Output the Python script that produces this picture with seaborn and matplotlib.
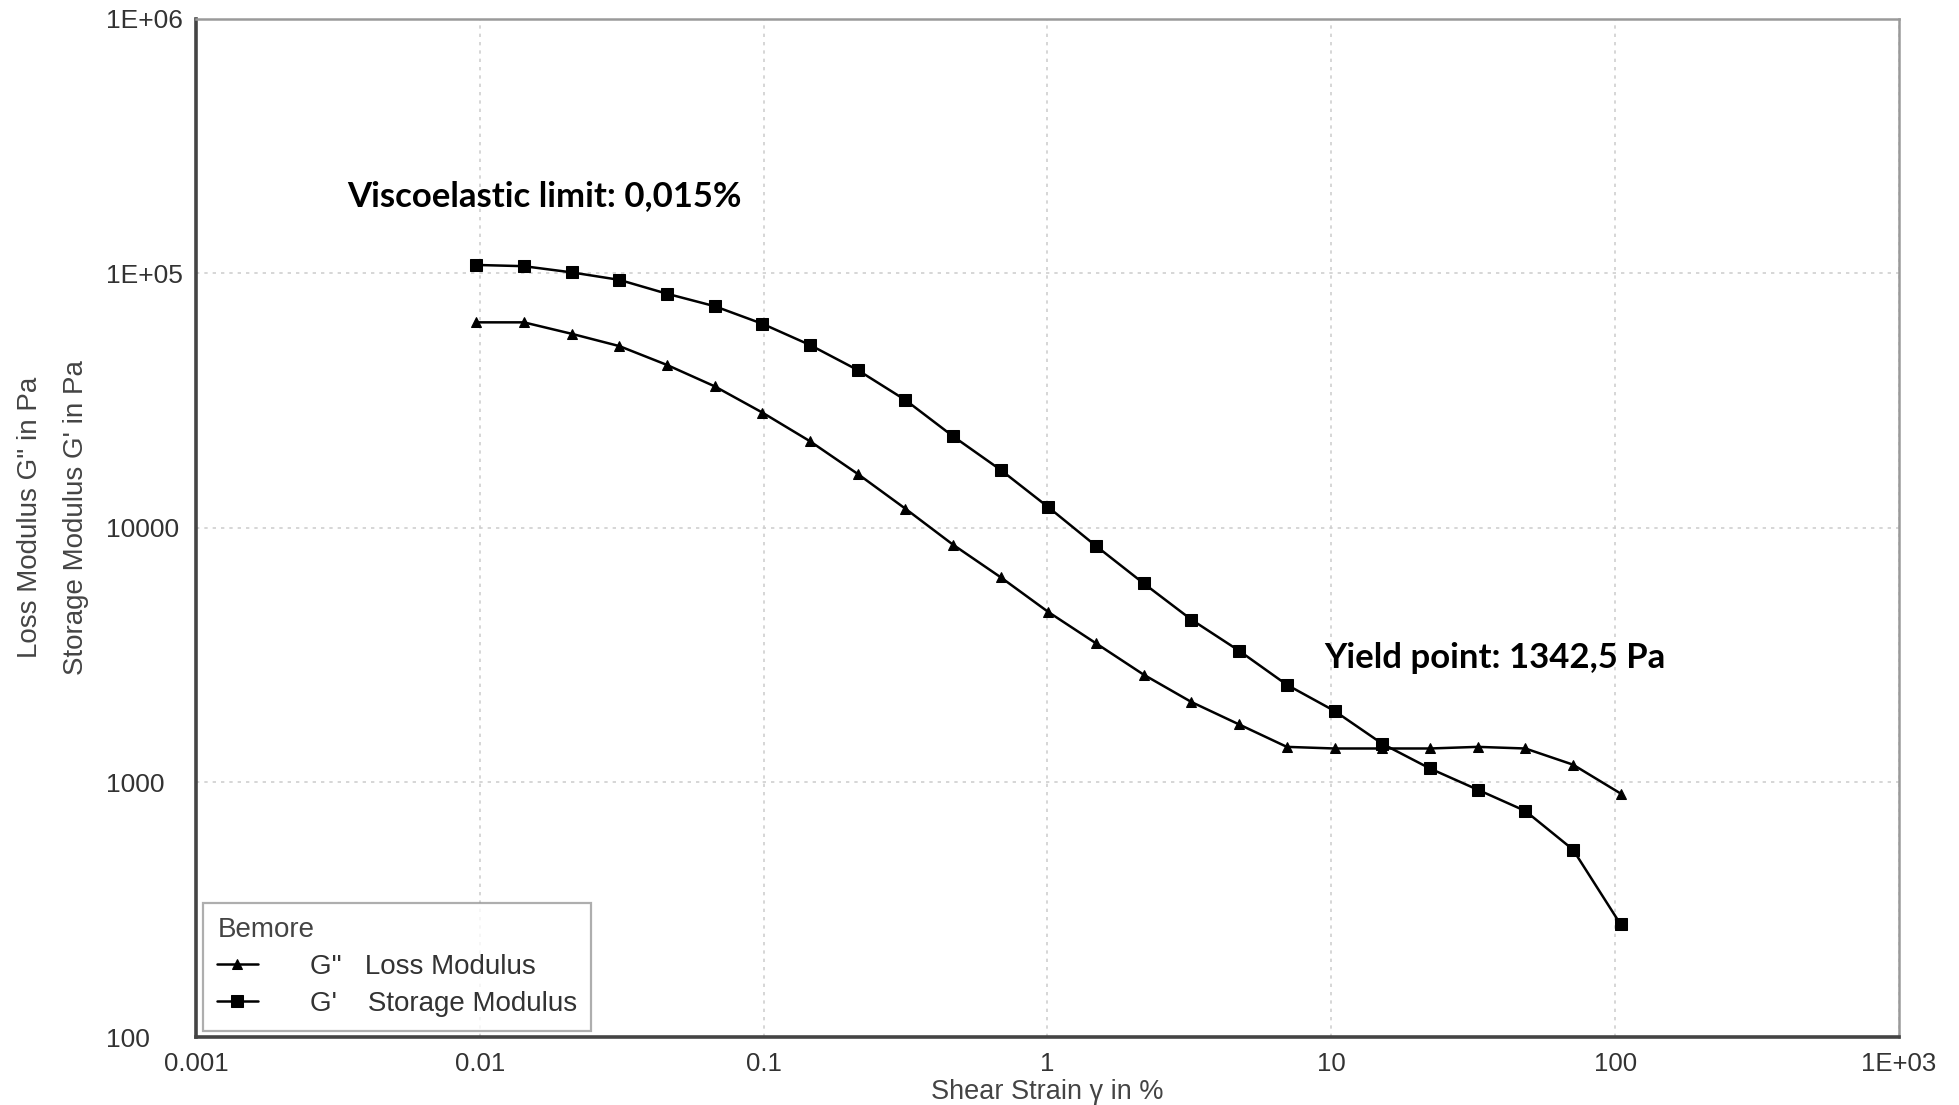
import matplotlib
matplotlib.use("Agg")
import matplotlib.pyplot as plt
import matplotlib.ticker as mticker
import seaborn as sns
import pandas as pd

# ---- data ----
strain = [0.00971, 0.0143, 0.02105, 0.0310, 0.0456, 0.0672, 0.0989, 0.1457,
          0.2145, 0.3158, 0.465, 0.684, 1.008, 1.483, 2.184, 3.216, 4.735,
          6.97, 10.26, 15.11, 22.25, 32.76, 48.24, 71.0, 104.5]
storage_modulus = [107900, 106700, 100900, 94300, 83200, 74300, 63400, 52300,
                   41700, 31800, 22900, 16900, 12050, 8490, 6050, 4360, 3290,
                   2420, 1910, 1420, 1135, 937, 773, 545, 277]
loss_modulus = [64200, 64200, 57900, 51800, 43700, 36000, 28400, 21900,
                16300, 11900, 8590, 6400, 4670, 3520, 2650, 2070, 1690,
                1380, 1360, 1360, 1360, 1380, 1360, 1175, 905]

x_ticks = [0.001, 0.01, 0.1, 1, 10, 100, 1000]
x_ticklabels = ["0.001", "0.01", "0.1", "1", "10", "100", "1E+03"]
y_ticks = [100, 1000, 10000, 100000, 1000000]
y_ticklabels = ["100", "1000", "10000", "1E+05", "1E+06"]

legend_title = "Bemore"
label_loss = 'G"   Loss Modulus'
label_storage = "G'    Storage Modulus"
ann_visco = "Viscoelastic limit: 0,015%"
ann_yield = "Yield point: 1342,5 Pa"

df_loss = pd.DataFrame({"strain": strain, "modulus": loss_modulus})
df_storage = pd.DataFrame({"strain": strain, "modulus": storage_modulus})

sns.set_style("white")
plt.rcParams["font.family"] = ["Liberation Sans", "DejaVu Sans"]

fig = plt.figure(figsize=(19.59, 11.05), dpi=100)
ax = fig.add_axes([0.100, 0.0615, 0.8694, 0.9215])

sns.lineplot(data=df_loss, x="strain", y="modulus", ax=ax, color="black",
             marker="^", markersize=7, markeredgecolor="black", linewidth=1.8,
             label=label_loss)
sns.lineplot(data=df_storage, x="strain", y="modulus", ax=ax, color="black",
             marker="s", markersize=9, markeredgecolor="black", linewidth=1.8,
             label=label_storage)

ax.set_xscale("log")
ax.set_yscale("log")
ax.set_xlim(x_ticks[0], x_ticks[-1])
ax.set_ylim(y_ticks[0], y_ticks[-1])
ax.xaxis.set_major_locator(mticker.FixedLocator(x_ticks))
ax.xaxis.set_major_formatter(mticker.FixedFormatter(x_ticklabels))
ax.yaxis.set_major_locator(mticker.FixedLocator(y_ticks))
ax.yaxis.set_major_formatter(mticker.FixedFormatter(y_ticklabels))
ax.xaxis.set_minor_locator(mticker.LogLocator(base=10, subs=range(2, 10), numticks=50))
ax.yaxis.set_minor_locator(mticker.LogLocator(base=10, subs=range(2, 10), numticks=50))
ax.xaxis.set_minor_formatter(mticker.NullFormatter())
ax.yaxis.set_minor_formatter(mticker.NullFormatter())

ax.tick_params(axis="both", which="major", direction="inout", length=10, width=1.5,
               color="#333333", labelcolor="#333333")
ax.tick_params(axis="x", which="major", labelsize=18.5, pad=6)
ax.tick_params(axis="y", which="major", labelsize=19, pad=60)
ax.tick_params(axis="both", which="minor", direction="inout", length=6, width=1.0,
               color="#333333")
ax.tick_params(axis="x", which="both", top=False)
ax.tick_params(axis="y", which="both", right=False)
for lbl in ax.get_yticklabels():
    lbl.set_horizontalalignment("left")

ax.grid(True, which="major", color="#cfcfcf", linestyle=(0, (2, 3)), linewidth=1.2)

for side in ["left", "bottom"]:
    ax.spines[side].set_color("#444444")
    ax.spines[side].set_linewidth(2.6)
for side in ["top", "right"]:
    ax.spines[side].set_color("#9a9a9a")
    ax.spines[side].set_linewidth(1.8)

ax.set_xlabel("Shear Strain γ in %", fontsize=19.5, color="#444444", labelpad=2)
ax.set_ylabel('Loss Modulus G" in Pa\nStorage Modulus G\' in Pa', fontsize=20,
              color="#444444", linespacing=2.0)
ax.yaxis.label.set_verticalalignment("center")
ax.yaxis.set_label_coords(-0.084, 0.51)

ax.text(0.00341, 201000, ann_visco, fontsize=25, fontweight="bold",
        family=["Lato", "DejaVu Sans"], va="center", ha="left", color="black")
ax.text(9.42, 3070, ann_yield, fontsize=25, fontweight="bold",
        family=["Lato", "DejaVu Sans"], va="center", ha="left", color="black")

leg = ax.legend(title=legend_title, loc="lower left",
                bbox_to_anchor=(0.0044, 0.006), borderaxespad=0.0,
                fontsize=20, title_fontsize=20, frameon=True, fancybox=False,
                edgecolor="#9a9a9a", handlelength=1.45, handletextpad=1.9,
                labelspacing=0.4, borderpad=0.5)
leg._legend_box.align = "left"
leg.get_title().set_color("#444444")
for t in leg.get_texts():
    t.set_color("#333333")
leg.get_frame().set_linewidth(1.6)

fig.savefig("out.png", dpi=100, facecolor="white")
